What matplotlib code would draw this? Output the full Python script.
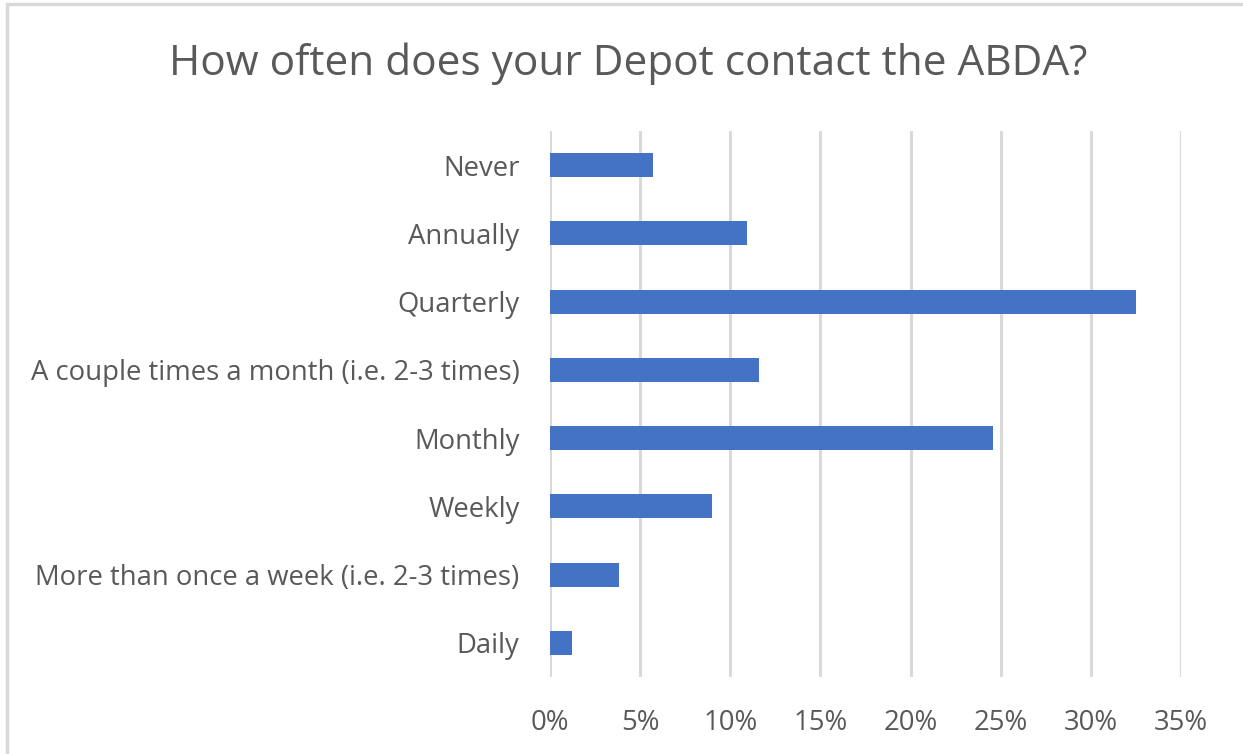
import matplotlib
matplotlib.use("Agg")
import matplotlib.pyplot as plt
from matplotlib.patches import Rectangle
from matplotlib.ticker import FuncFormatter

categories = [
    "Never",
    "Annually",
    "Quarterly",
    "A couple times a month (i.e. 2-3 times)",
    "Monthly",
    "Weekly",
    "More than once a week (i.e. 2-3 times)",
    "Daily",
]
shares = [5.7, 10.9, 32.5, 11.6, 24.6, 9.0, 3.8, 1.2]
x_ticks = [0, 5, 10, 15, 20, 25, 30, 35]
title = "How often does your Depot contact the ABDA?"

bar_color = "#4472C4"
text_color = "#595959"
grid_color = "#D9D9D9"

plt.rcParams["font.family"] = ["Open Sans", "DejaVu Sans"]

fig = plt.figure(figsize=(12.43, 7.54), dpi=100)
ax = fig.add_axes([0.4425, 0.1021, 0.5076, 0.7242])

ypos = list(range(len(categories)))
ax.barh(ypos, shares, height=0.35, color=bar_color, zorder=3)
ax.set_ylim(len(categories) - 0.5, -0.5)
ax.set_yticks(ypos)
ax.set_yticklabels(categories)

ax.set_xlim(0, 35)
ax.set_xticks(x_ticks)
ax.xaxis.set_major_formatter(FuncFormatter(lambda v, _: f"{v:.0f}%"))
ax.grid(axis="x", color=grid_color, linewidth=2.2, zorder=0)
ax.tick_params(axis="both", length=0, labelsize=19.8, colors=text_color)
ax.tick_params(axis="y", pad=22)
ax.tick_params(axis="x", pad=23)
for s in ax.spines.values():
    s.set_visible(False)

fig.text(0.5052, 1 - 75 / 754, title, ha="center", va="baseline",
         fontsize=30.5, color=text_color)

# light frame along the top and left edges
fig.add_artist(Rectangle((7 / 1243, -0.05), 1.1, 1 - 4 / 754 + 0.05,
                         transform=fig.transFigure, fill=False,
                         edgecolor="#D9D9D9", linewidth=2.5))

fig.savefig("out.png", dpi=100)
